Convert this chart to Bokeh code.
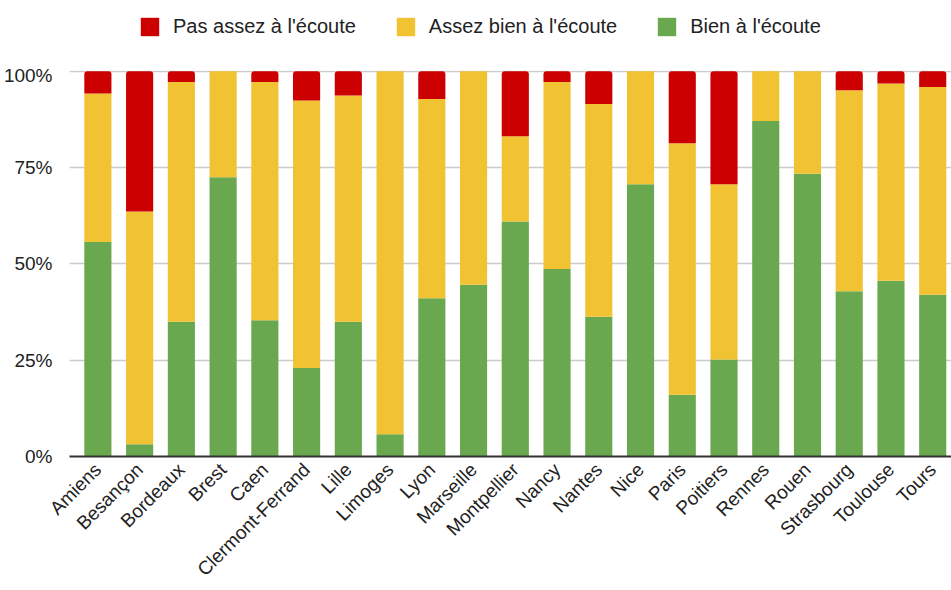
import math
from bokeh.plotting import figure
from bokeh.layouts import column
from bokeh.models import Range1d, FixedTicker, NumeralTickFormatter, Legend, LegendItem, ColumnDataSource
from bokeh.embed import file_html
from bokeh.resources import INLINE

cities = ["Amiens", "Besançon", "Bordeaux", "Brest", "Caen", "Clermont-Ferrand", "Lille",
          "Limoges", "Lyon", "Marseille", "Montpellier", "Nancy", "Nantes", "Nice", "Paris",
          "Poitiers", "Rennes", "Rouen", "Strasbourg", "Toulouse", "Tours"]
bien = [0.557, 0.032, 0.350, 0.725, 0.354, 0.230, 0.350, 0.058, 0.411, 0.446, 0.610,
        0.487, 0.363, 0.707, 0.160, 0.252, 0.871, 0.734, 0.429, 0.456, 0.420]
assez_bien = [0.385, 0.604, 0.622, 0.275, 0.618, 0.694, 0.587, 0.942, 0.517, 0.554, 0.221,
              0.485, 0.552, 0.293, 0.653, 0.455, 0.129, 0.266, 0.522, 0.512, 0.539]
pas_assez = [0.058, 0.364, 0.028, 0.0, 0.028, 0.076, 0.063, 0.0, 0.072, 0.0, 0.169,
             0.028, 0.085, 0.0, 0.187, 0.293, 0.0, 0.0, 0.049, 0.032, 0.041]

labels = ["Pas assez à l'écoute", "Assez bien à l'écoute", "Bien à l'écoute"]
colors = ["#cc0000", "#f1c232", "#6aa84f"]

x = list(range(len(cities)))
b0 = [0.0] * len(x)
b1 = bien
b2 = [a + b for a, b in zip(bien, assez_bien)]
b3 = [a + b + c for a, b, c in zip(bien, assez_bien, pas_assez)]

src = ColumnDataSource(dict(x=x, b0=b0, b1=b1, b2=b2, b3=b3))

FONT = "Liberation Sans"
TXT = "#222222"
w = 0.65

# ---- legend strip (its own small figure above the chart) ----
lg = figure(width=951, height=64, output_backend="svg", toolbar_location=None,
            x_range=Range1d(-0.68, 20.45), y_range=Range1d(0, 1),
            x_axis_type=None, y_axis_type=None,
            min_border_left=0, min_border_right=0, min_border_top=0, min_border_bottom=0)
lg.outline_line_color = None
lg.xgrid.grid_line_color = None
lg.ygrid.grid_line_color = None
# zero-height bars: only their colours are used, for the legend swatches
sw = [lg.vbar(x="x", bottom="b0", top="b0", width=w, source=src, fill_color=c,
              line_color=None, border_radius=2) for c in colors]
legend = Legend(items=[LegendItem(label=labels[i], renderers=[sw[i]]) for i in range(3)],
                orientation="horizontal", location=(69, 26),
                glyph_width=23, glyph_height=23, label_standoff=12, spacing=38,
                label_text_font=FONT, label_text_font_size="20px",
                label_text_color=TXT, border_line_color=None,
                background_fill_alpha=0, padding=0, margin=0, label_height=23)
lg.add_layout(legend, "center")

# ---- main chart ----
p = figure(width=951, height=526, output_backend="svg", toolbar_location=None,
           x_range=Range1d(-0.68, 20.45), y_range=Range1d(0, 1.002),
           min_border_left=68, min_border_right=0, min_border_top=6, min_border_bottom=0)

p.vbar(x="x", bottom="b0", top="b1", width=w, source=src,
       fill_color=colors[2], line_color=None)
p.vbar(x="x", bottom="b1", top="b2", width=w, source=src,
       fill_color=colors[1], line_color=None)
p.vbar(x="x", bottom="b2", top="b3", width=w, source=src,
       fill_color=colors[0], line_color=None, border_radius=[3, 3, 0, 0])

p.outline_line_color = None
p.xgrid.grid_line_color = None
p.ygrid.grid_line_color = "#cccccc"
p.ygrid.grid_line_width = 1.5
p.yaxis.ticker = FixedTicker(ticks=[0, 0.25, 0.5, 0.75, 1.0])
p.yaxis.formatter = NumeralTickFormatter(format="0%")
p.yaxis.axis_line_color = None
p.yaxis.major_tick_line_color = None
p.yaxis.minor_tick_line_color = None
p.yaxis.major_label_text_font = FONT
p.yaxis.major_label_text_font_size = "19px"
p.yaxis.major_label_text_color = TXT
p.yaxis.major_label_standoff = 11

p.xaxis.ticker = FixedTicker(ticks=x)
p.xaxis.major_label_overrides = {i: c for i, c in enumerate(cities)}
p.xaxis.major_label_orientation = math.pi / 4
p.xaxis.axis_line_color = "#333333"
p.xaxis.axis_line_width = 2
p.xaxis.major_tick_line_color = None
p.xaxis.minor_tick_line_color = None
p.xaxis.major_label_text_font = FONT
p.xaxis.major_label_text_font_size = "19px"
p.xaxis.major_label_text_color = TXT
p.xaxis.major_label_standoff = 4

layout = column(lg, p, spacing=0)
open("out.html", "w").write(file_html(layout, INLINE))
